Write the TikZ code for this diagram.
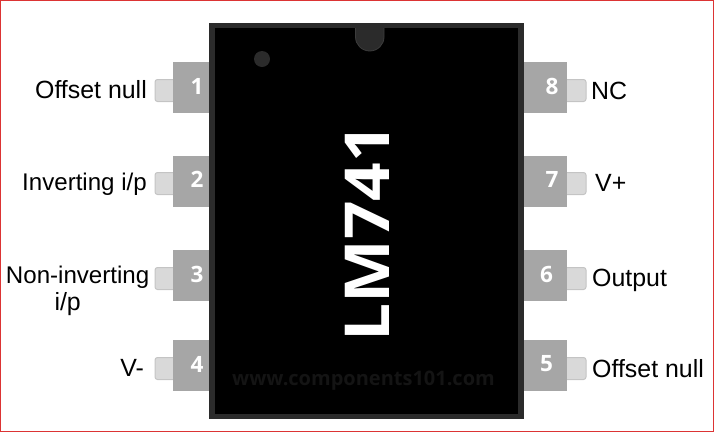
\documentclass[tikz,border=0pt]{standalone}
\usepackage{fontspec}
\setmainfont{Liberation Sans}
\newfontfamily\pinfont{Open Sans}
\usetikzlibrary{positioning}

\definecolor{bodyedge}{HTML}{2B2B2B}
\definecolor{notchedge}{HTML}{3C3C3C}
\definecolor{pingray}{HTML}{A6A6A6}
\definecolor{leadfill}{HTML}{D9D9D9}
\definecolor{leadedge}{HTML}{C4C4C4}
\definecolor{framered}{HTML}{DC3434}
\definecolor{markcol}{HTML}{141414}

\tikzset{
	pinbox/.style={fill=pingray, minimum width=36pt, minimum height=51pt, inner sep=0pt},
	pinnum/.style={inner sep=0pt, text=white, font=\pinfont\bfseries\fontsize{22.5}{22}\selectfont},
	leadbox/.style={fill=leadfill, draw=leadedge, line width=1pt, rounded corners=2.5pt, minimum width=22pt, minimum height=22pt, inner sep=0pt},
	pinlabel/.style={inner sep=0pt, font=\fontsize{24.9}{30}\selectfont},
	widelabel/.style={inner sep=0pt, font=\fontsize{24.1}{30}\selectfont}
}

\begin{document}
\begin{tikzpicture}[x=1pt, y=-1pt]
	\useasboundingbox (0, 0) rectangle (714, 432);
	\draw[framered, line width=1.5pt] (0.5, 0.5) rectangle (713.5, 431.5);

	% leads go first, the pin blocks cover their inner ends
	\node[leadbox] (L1) at (166, 90.5) {};
	\node[leadbox] (L2) at (166, 183.5) {};
	\node[leadbox] (L3) at (166, 278.5) {};
	\node[leadbox] (L4) at (166, 368.5) {};
	\node[leadbox] (L8) at (575, 90.5) {};
	\node[leadbox] (L7) at (575, 183.5) {};
	\node[leadbox] (L6) at (575, 278.5) {};
	\node[leadbox] (L5) at (575, 368.5) {};

	\node[pinbox] (P1) at (191, 87.5) {};
	\node[pinbox] (P2) at (191, 181) {};
	\node[pinbox] (P3) at (191, 275.5) {};
	\node[pinbox] (P4) at (191, 365.5) {};
	\node[pinbox, minimum width=43pt] (P8) at (545.5, 87.5) {};
	\node[pinbox, minimum width=43pt] (P7) at (545.5, 181) {};
	\node[pinbox, minimum width=43pt] (P6) at (545.5, 275.5) {};
	\node[pinbox, minimum width=43pt] (P5) at (545.5, 365.5) {};

	% digits sit right of the block centres on the left, left of them on the right
	\foreach \pin/\xpos/\ypos in {1/197/86, 2/197/179, 3/197/274, 4/197/364, 8/552/86, 7/552/179, 6/546.5/274, 5/546.5/364}
		\node[pinnum] (N\pin) at (\xpos, \ypos) {\pin};

	\fill[bodyedge] (209, 23) rectangle (524, 419);
	\fill[black] (215, 28) rectangle (518, 414);
	\fill[bodyedge] (262, 59) circle [radius=8pt];
	\filldraw[fill=bodyedge, draw=notchedge, line width=0.8pt] (355.5, 28) -- (355.5, 37) arc [start angle=180, end angle=360, x radius=14.25pt, y radius=14pt] -- (384, 28);

	\node[text=white, rotate=90, inner sep=0pt, font=\pinfont\bfseries\fontsize{62}{62}\selectfont\addfontfeature{FakeStretch=1.09}] (chip) at (367, 233) {LM741};
	\node[text=markcol, inner sep=0pt, font=\pinfont\bfseries\fontsize{20}{20}\selectfont] (mark) at (363.5, 381) {www.components101.com};

	\node[pinlabel, anchor=east] (T1) at (147, 90) {Offset null};
	\node[widelabel, anchor=east] (T2) at (147, 184) {Inverting i/p};
	\node[widelabel, anchor=east] (T3) at (149.5, 277) {Non-inverting};
	\node[pinlabel, anchor=east] (T3b) at (81, 304) {i/p};
	\node[pinlabel, anchor=east] (T4) at (144, 368) {V-};
	\node[pinlabel, anchor=west] (T8) at (591, 91) {NC};
	\node[pinlabel, anchor=west] (T7) at (595, 183) {V+};
	\node[pinlabel, anchor=west] (T6) at (592, 280) {Output};
	\node[pinlabel, anchor=west] (T5) at (592, 369) {Offset null};
\end{tikzpicture}
\end{document}
